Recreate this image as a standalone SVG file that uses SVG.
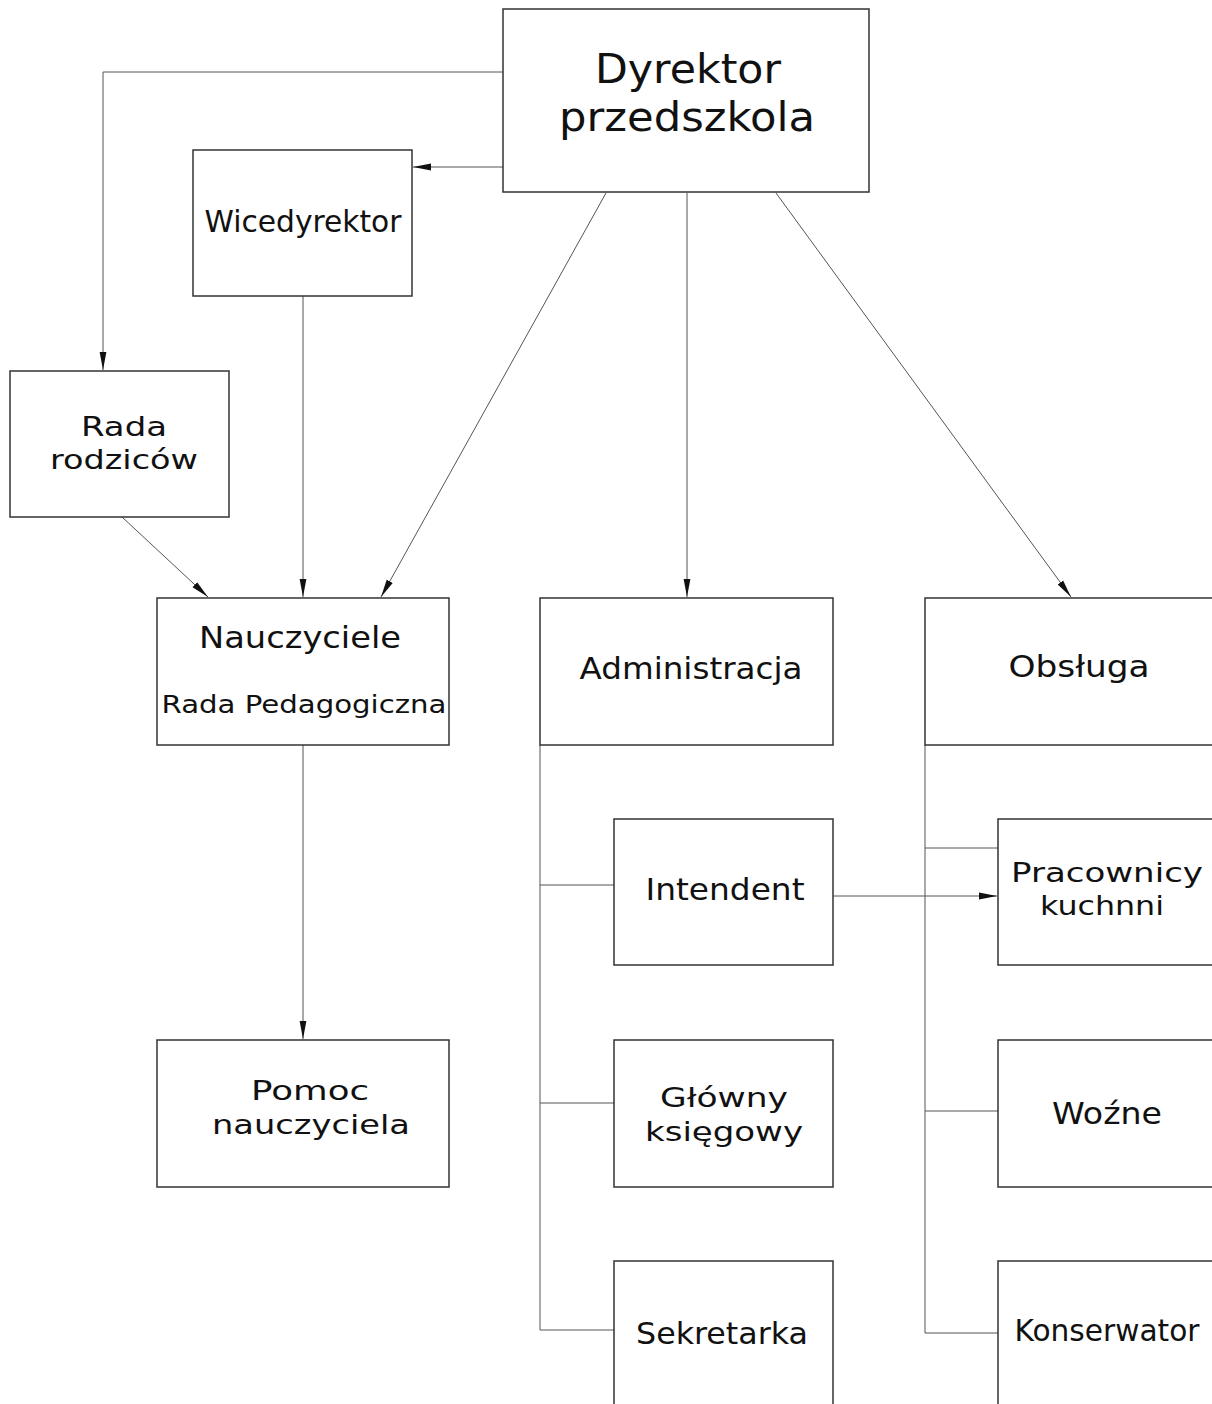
<svg xmlns="http://www.w3.org/2000/svg" width="1212" height="1404" viewBox="0 0 1212 1404">
<style>
.box{fill:none;stroke:#333;stroke-width:1.5}
.ln{fill:none;stroke:#555;stroke-width:1}
.t{font-family:"DejaVu Sans","Liberation Sans",sans-serif;fill:#111;text-anchor:middle}
.big{font-size:40px}
.md{font-size:31px}
.md2{font-size:27px}
.sm{font-size:24px}
</style>
<defs>
<marker id="ar" viewBox="0 0 18 8" refX="18" refY="4" markerWidth="18" markerHeight="8" markerUnits="userSpaceOnUse" orient="auto">
<path d="M0,0.6 L18,4 L0,7.4 Z" fill="#111"/>
</marker>
</defs>
<rect width="1212" height="1404" fill="#fff"/>
<g id="connectors">
<polyline class="ln" points="503,72 103,72 103,370" marker-end="url(#ar)"/>
<line class="ln" x1="503" y1="167" x2="413" y2="167" marker-end="url(#ar)"/>
<line class="ln" x1="303" y1="296" x2="303" y2="597" marker-end="url(#ar)"/>
<line class="ln" x1="122" y1="517" x2="208" y2="597" marker-end="url(#ar)"/>
<line class="ln" x1="606" y1="193" x2="381" y2="597" marker-end="url(#ar)"/>
<line class="ln" x1="687" y1="193" x2="687" y2="597" marker-end="url(#ar)"/>
<line class="ln" x1="776" y1="193" x2="1071" y2="597" marker-end="url(#ar)"/>
<line class="ln" x1="303" y1="745" x2="303" y2="1039" marker-end="url(#ar)"/>
<polyline class="ln" points="540,745 540,1330 614,1330"/>
<line class="ln" x1="540" y1="885" x2="614" y2="885"/>
<line class="ln" x1="540" y1="1103" x2="614" y2="1103"/>
<polyline class="ln" points="925,745 925,1333 998,1333"/>
<line class="ln" x1="925" y1="848" x2="998" y2="848"/>
<line class="ln" x1="925" y1="1111" x2="998" y2="1111"/>
<line class="ln" x1="833" y1="896" x2="997" y2="896" marker-end="url(#ar)"/>
</g>
<g id="dyrektor"><rect class="box" x="503" y="9" width="366" height="183"/>
<text class="t big" x="688" y="83" textLength="186" lengthAdjust="spacingAndGlyphs">Dyrektor</text>
<text class="t big" x="687" y="131" textLength="256" lengthAdjust="spacingAndGlyphs">przedszkola</text></g>
<g id="wicedyrektor"><rect class="box" x="193" y="150" width="219" height="146"/>
<text class="t md" x="303" y="232" textLength="197" lengthAdjust="spacingAndGlyphs">Wicedyrektor</text></g>
<g id="rada-rodzicow"><rect class="box" x="10" y="371" width="219" height="146"/>
<text class="t md2" x="124" y="436" textLength="86" lengthAdjust="spacingAndGlyphs">Rada</text>
<text class="t md2" x="124" y="469" textLength="148" lengthAdjust="spacingAndGlyphs">rodziców</text></g>
<g id="nauczyciele"><rect class="box" x="157" y="598" width="292" height="147"/>
<text class="t md" x="300" y="648" textLength="202" lengthAdjust="spacingAndGlyphs">Nauczyciele</text>
<text class="t sm" x="304" y="713" textLength="285" lengthAdjust="spacingAndGlyphs">Rada Pedagogiczna</text></g>
<g id="administracja"><rect class="box" x="540" y="598" width="293" height="147"/>
<text class="t md" x="691" y="679" textLength="223" lengthAdjust="spacingAndGlyphs">Administracja</text></g>
<g id="obsluga"><rect class="box" x="925" y="598" width="300" height="147"/>
<text class="t md" x="1079" y="677" textLength="141" lengthAdjust="spacingAndGlyphs">Obsługa</text></g>
<g id="intendent"><rect class="box" x="614" y="819" width="219" height="146"/>
<text class="t md" x="725" y="900" textLength="159" lengthAdjust="spacingAndGlyphs">Intendent</text></g>
<g id="pracownicy"><rect class="box" x="998" y="819" width="230" height="146"/>
<text class="t md2" x="1107" y="882" textLength="192" lengthAdjust="spacingAndGlyphs">Pracownicy</text>
<text class="t md2" x="1102" y="915" textLength="124" lengthAdjust="spacingAndGlyphs">kuchnni</text></g>
<g id="pomoc"><rect class="box" x="157" y="1040" width="292" height="147"/>
<text class="t md2" x="310" y="1100" textLength="118" lengthAdjust="spacingAndGlyphs">Pomoc</text>
<text class="t md2" x="311" y="1134" textLength="198" lengthAdjust="spacingAndGlyphs">nauczyciela</text></g>
<g id="glowny"><rect class="box" x="614" y="1040" width="219" height="147"/>
<text class="t md2" x="724" y="1107" textLength="128" lengthAdjust="spacingAndGlyphs">Główny</text>
<text class="t md2" x="724" y="1141" textLength="158" lengthAdjust="spacingAndGlyphs">księgowy</text></g>
<g id="wozne"><rect class="box" x="998" y="1040" width="230" height="147"/>
<text class="t md" x="1107" y="1124" textLength="110" lengthAdjust="spacingAndGlyphs">Woźne</text></g>
<g id="sekretarka"><rect class="box" x="614" y="1261" width="219" height="160"/>
<text class="t md" x="722" y="1344" textLength="172" lengthAdjust="spacingAndGlyphs">Sekretarka</text></g>
<g id="konserwator"><rect class="box" x="998" y="1261" width="230" height="160"/>
<text class="t md" x="1107" y="1341" textLength="185" lengthAdjust="spacingAndGlyphs">Konserwator</text></g>
</svg>
